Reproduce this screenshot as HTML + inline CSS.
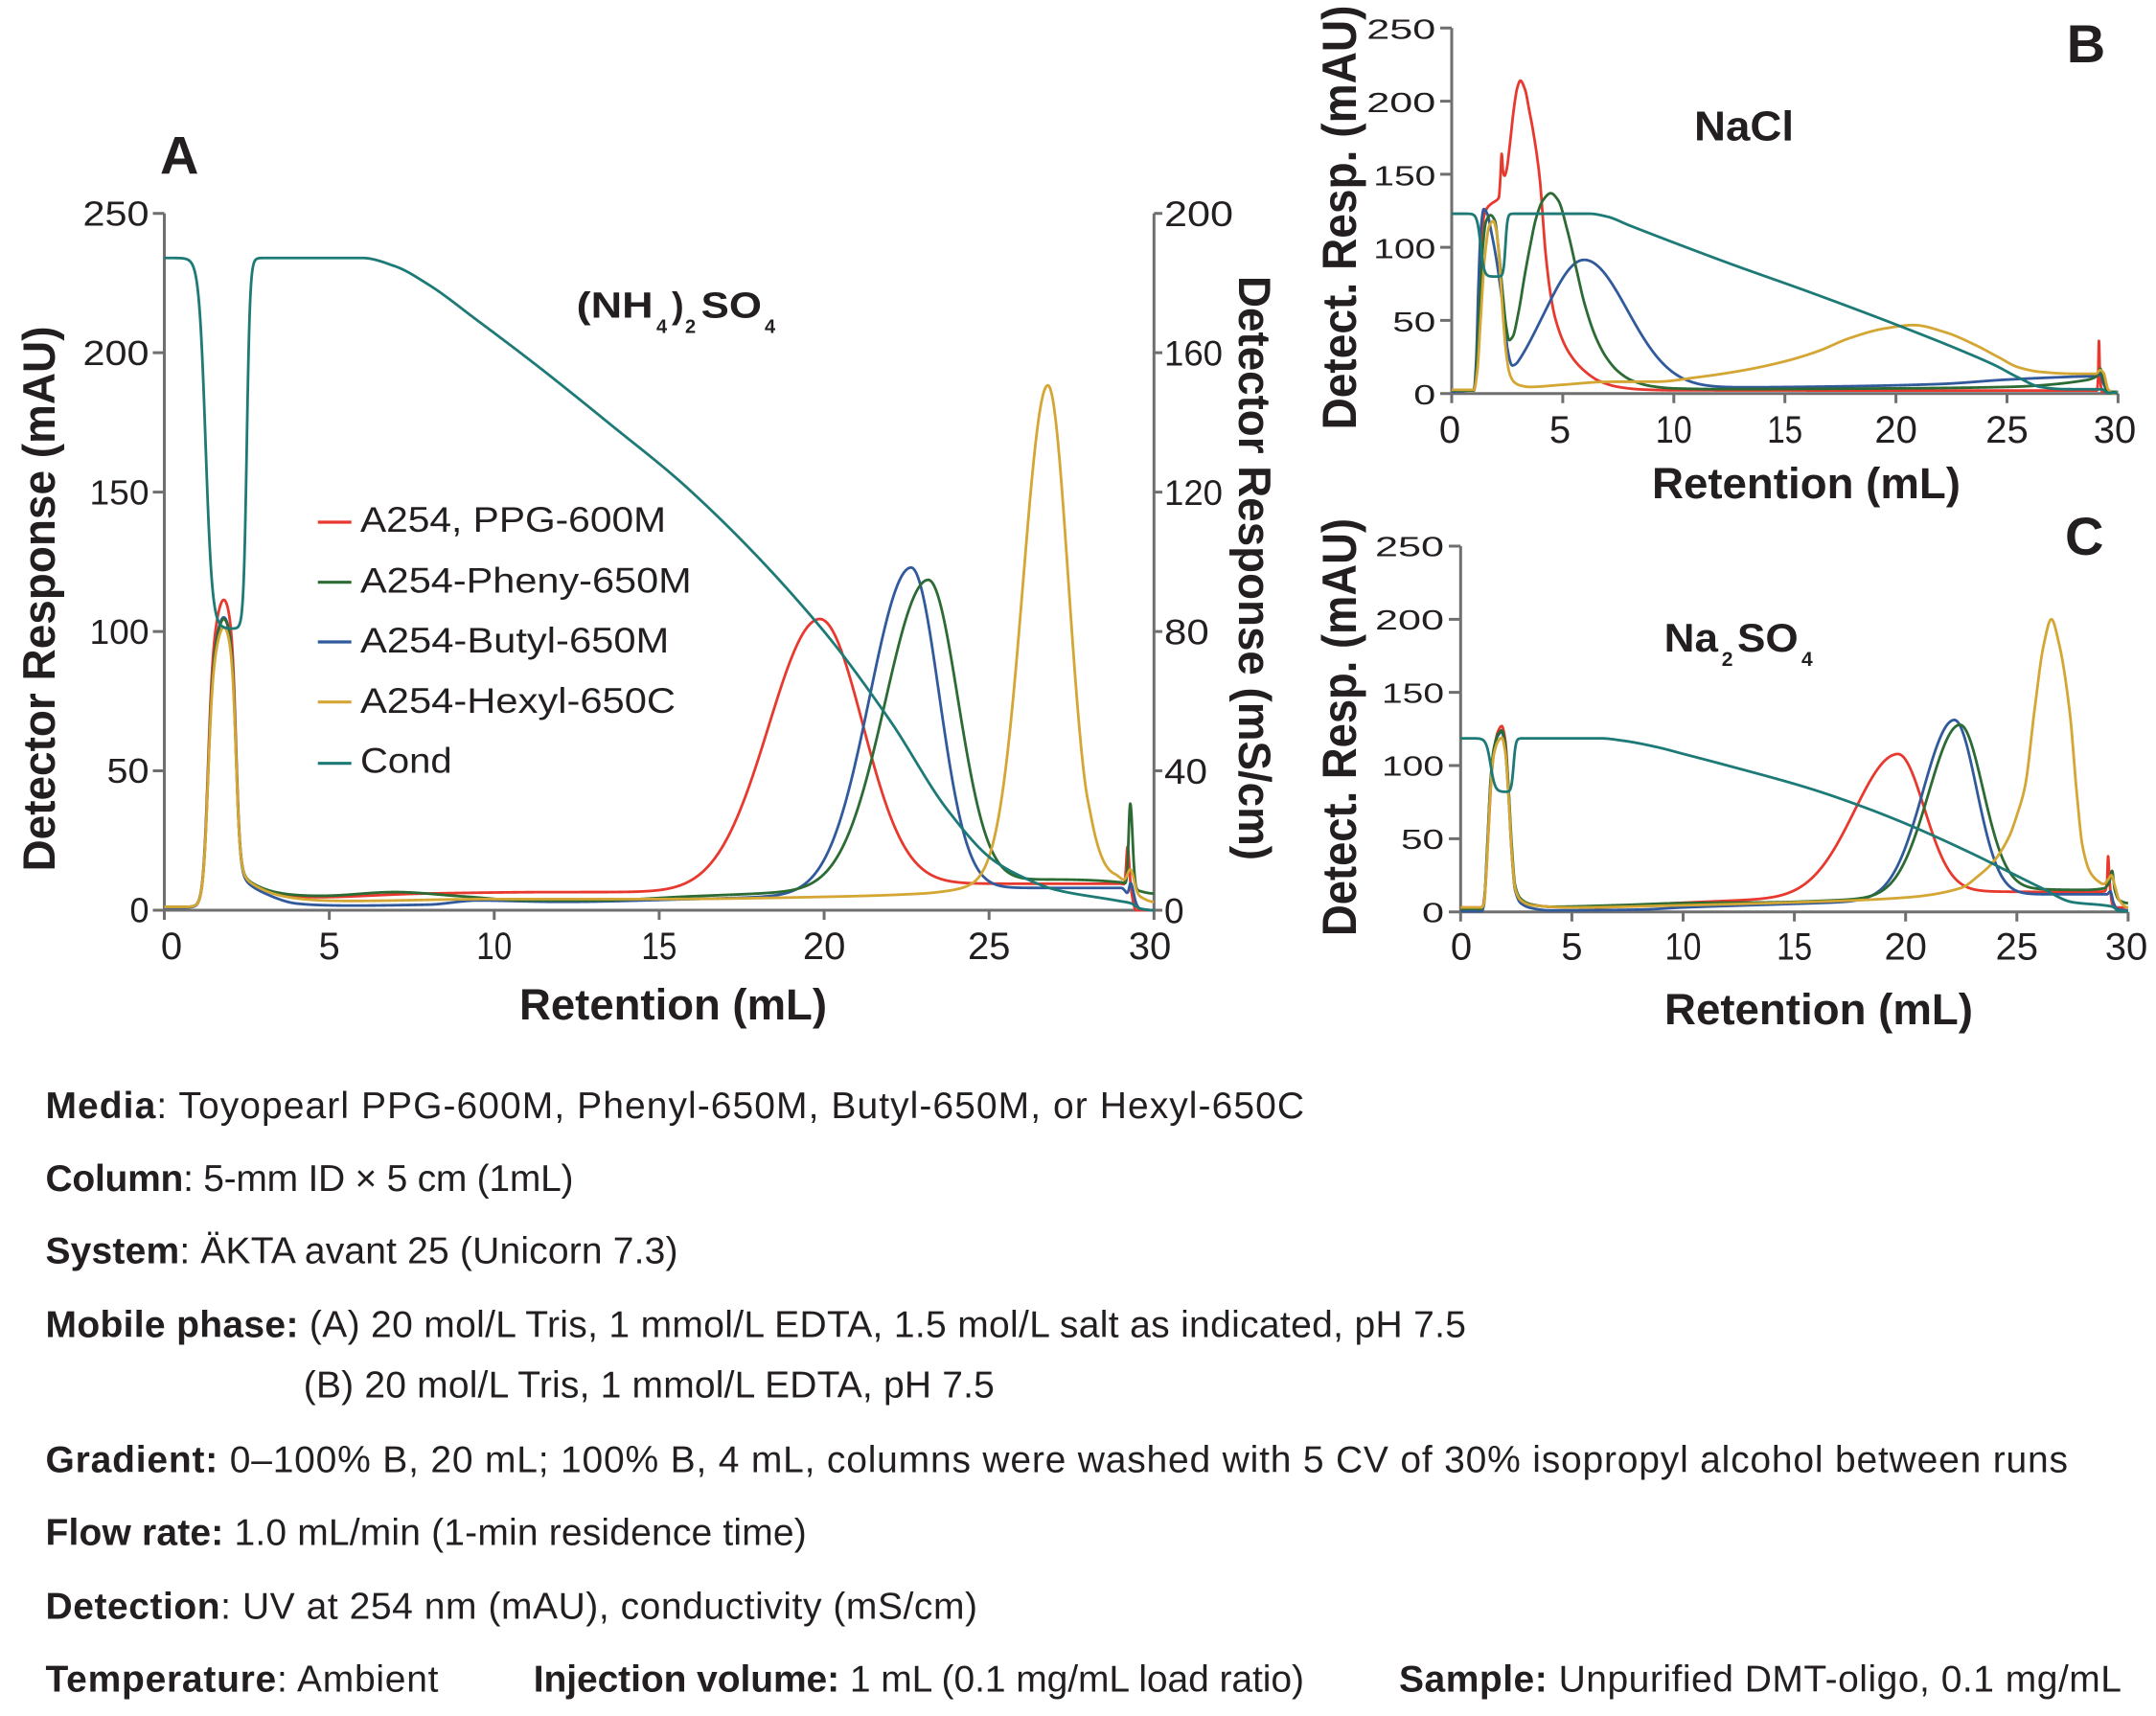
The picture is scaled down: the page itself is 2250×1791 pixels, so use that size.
<!DOCTYPE html>
<html><head><meta charset="utf-8">
<style>
html,body{margin:0;padding:0;background:#fff;}
svg{display:block;}
text{font-family:"Liberation Sans",Arial,sans-serif;fill:#231f20;}
.b{font-weight:bold;}
.yt{font-size:36px;text-anchor:end;}
.yr{font-size:37px;}
.xt{font-size:40px;text-anchor:middle;}
.yt2{font-size:29px;text-anchor:end;}
.lg{font-size:37px;}
.ft{font-size:39px;}
.ax{fill:none;stroke:#6f6f6f;stroke-width:3;}
</style></head><body>
<svg id="s" width="2250" height="1791" viewBox="0 0 2250 1791" xmlns="http://www.w3.org/2000/svg">
<rect width="2250" height="1791" fill="#fff"/>

<!-- ========== Panel A axes ========== -->
<path class="ax" d="M171.5 222.7V950 M159.5 950H1204.3 M1204.3 222.7V960
M159.5 804.54H171.5 M159.5 659.08H171.5 M159.5 513.62H171.5 M159.5 368.16H171.5 M159.5 222.7H171.5
M1204.3 950H1213 M1204.3 804.54H1213 M1204.3 659.08H1213 M1204.3 513.62H1213 M1204.3 368.16H1213 M1204.3 222.7H1213
M171.5 950V960 M343.64 950V960 M515.78 950V960 M687.92 950V960 M860.06 950V960 M1032.2 950V960"/>
<text class="yt" x="155.5" y="962.7">0</text>
<text class="yt" x="155.5" y="817.2" textLength="44" lengthAdjust="spacingAndGlyphs">50</text>
<text class="yt" x="155.5" y="671.8" textLength="62" lengthAdjust="spacingAndGlyphs">100</text>
<text class="yt" x="155.5" y="526.3" textLength="62" lengthAdjust="spacingAndGlyphs">150</text>
<text class="yt" x="155.5" y="380.9" textLength="69" lengthAdjust="spacingAndGlyphs">200</text>
<text class="yt" x="155.5" y="235.4" textLength="69" lengthAdjust="spacingAndGlyphs">250</text>

<text class="yr" x="1215" y="963.3">0</text>
<text class="yr" x="1215" y="817.8" textLength="45" lengthAdjust="spacingAndGlyphs">40</text>
<text class="yr" x="1215" y="672.4" textLength="46.7" lengthAdjust="spacingAndGlyphs">80</text>
<text class="yr" x="1215" y="526.9" textLength="61" lengthAdjust="spacingAndGlyphs">120</text>
<text class="yr" x="1215" y="381.5" textLength="61" lengthAdjust="spacingAndGlyphs">160</text>
<text class="yr" x="1215" y="236" textLength="72" lengthAdjust="spacingAndGlyphs">200</text>

<text class="xt" x="179" y="1001">0</text>
<text class="xt" x="343.6" y="1001">5</text>
<text class="xt" x="515.8" y="1001" textLength="37" lengthAdjust="spacingAndGlyphs">10</text>
<text class="xt" x="687.9" y="1001" textLength="37" lengthAdjust="spacingAndGlyphs">15</text>
<text class="xt" x="860.1" y="1001">20</text>
<text class="xt" x="1032.2" y="1001">25</text>
<text class="xt" x="1200" y="1001">30</text>

<text class="b" x="702.5" y="1064" font-size="45" text-anchor="middle" textLength="321" lengthAdjust="spacingAndGlyphs">Retention (mL)</text>
<text class="b" transform="translate(57,625) rotate(-90)" font-size="47" text-anchor="middle" textLength="569" lengthAdjust="spacingAndGlyphs">Detector Response (mAU)</text>
<text class="b" transform="translate(1293,593) rotate(90)" font-size="47" text-anchor="middle" textLength="610" lengthAdjust="spacingAndGlyphs">Detector Response (mS/cm)</text>
<text class="b" x="167" y="181.6" font-size="56">A</text>

<!-- (NH4)2SO4 -->
<text class="b" x="601.7" y="331.7" font-size="38" textLength="80" lengthAdjust="spacingAndGlyphs">(NH</text>
<text class="b" x="685" y="347.3" font-size="20">4</text>
<text class="b" x="701" y="331.7" font-size="38">)</text>
<text class="b" x="715" y="347.3" font-size="20">2</text>
<text class="b" x="731.7" y="331.7" font-size="38" textLength="63.3" lengthAdjust="spacingAndGlyphs">SO</text>
<text class="b" x="798" y="347.3" font-size="20">4</text>

<!-- legend -->
<g stroke-width="3.2">
<line x1="331.7" y1="545" x2="366.7" y2="545" stroke="#e8392f"/>
<line x1="331.7" y1="607.7" x2="366.7" y2="607.7" stroke="#2c6b33"/>
<line x1="331.7" y1="670" x2="366.7" y2="670" stroke="#315a9c"/>
<line x1="331.7" y1="732.7" x2="366.7" y2="732.7" stroke="#d4a634"/>
<line x1="331.7" y1="796.7" x2="366.7" y2="796.7" stroke="#1d7a76"/>
</g>
<text class="lg" x="376" y="555" textLength="319" lengthAdjust="spacingAndGlyphs">A254, PPG-600M</text>
<text class="lg" x="376" y="618.3" textLength="345.7" lengthAdjust="spacingAndGlyphs">A254-Pheny-650M</text>
<text class="lg" x="376" y="681" textLength="322.3" lengthAdjust="spacingAndGlyphs">A254-Butyl-650M</text>
<text class="lg" x="376" y="744" textLength="329" lengthAdjust="spacingAndGlyphs">A254-Hexyl-650C</text>
<text class="lg" x="376" y="806.7" textLength="95.7" lengthAdjust="spacingAndGlyphs">Cond</text>

<!-- ========== Panel B axes ========== -->
<path class="ax" d="M1515 29.3V410.7 M1503 410.7H2210.4
M1503 334.42H1515 M1503 258.14H1515 M1503 181.86H1515 M1503 105.58H1515 M1503 29.3H1515
M1515 410.7V420.7 M1630.9 410.7V420.7 M1746.8 410.7V420.7 M1862.7 410.7V420.7 M1978.6 410.7V420.7 M2094.5 410.7V420.7 M2210.4 410.7V420.7"/>
<text class="yt2" x="1498.3" y="422.1" textLength="23" lengthAdjust="spacingAndGlyphs">0</text>
<text class="yt2" x="1498.3" y="345.8" textLength="45" lengthAdjust="spacingAndGlyphs">50</text>
<text class="yt2" x="1498.3" y="269.5" textLength="65" lengthAdjust="spacingAndGlyphs">100</text>
<text class="yt2" x="1498.3" y="193.3" textLength="65" lengthAdjust="spacingAndGlyphs">150</text>
<text class="yt2" x="1498.3" y="117" textLength="72" lengthAdjust="spacingAndGlyphs">200</text>
<text class="yt2" x="1498.3" y="40.7" textLength="72" lengthAdjust="spacingAndGlyphs">250</text>
<text class="xt" x="1513" y="462">0</text>
<text class="xt" x="1628" y="462">5</text>
<text class="xt" x="1746.8" y="462" textLength="38" lengthAdjust="spacingAndGlyphs">10</text>
<text class="xt" x="1862.7" y="462" textLength="37" lengthAdjust="spacingAndGlyphs">15</text>
<text class="xt" x="1978.6" y="462">20</text>
<text class="xt" x="2094.5" y="462">25</text>
<text class="xt" x="2207" y="462">30</text>
<text class="b" x="1885" y="520" font-size="45" text-anchor="middle" textLength="322" lengthAdjust="spacingAndGlyphs">Retention (mL)</text>
<text class="b" transform="translate(1415,227) rotate(-90)" font-size="50" text-anchor="middle" textLength="443" lengthAdjust="spacingAndGlyphs">Detect. Resp. (mAU)</text>
<text class="b" x="2156.7" y="65" font-size="56">B</text>
<text class="b" x="1768" y="146.7" font-size="44" textLength="104" lengthAdjust="spacingAndGlyphs">NaCl</text>

<!-- ========== Panel C axes ========== -->
<path class="ax" d="M1524.3 570V951.7 M1512 951.7H2220.9
M1512 875.36H1524.3 M1512 799.02H1524.3 M1512 722.68H1524.3 M1512 646.34H1524.3 M1512 570H1524.3
M1524.3 951.7V961.7 M1640.4 951.7V961.7 M1756.5 951.7V961.7 M1872.6 951.7V961.7 M1988.7 951.7V961.7 M2104.8 951.7V961.7 M2220.9 951.7V961.7"/>
<text class="yt2" x="1507" y="962.4" textLength="23" lengthAdjust="spacingAndGlyphs">0</text>
<text class="yt2" x="1507" y="886.1" textLength="45" lengthAdjust="spacingAndGlyphs">50</text>
<text class="yt2" x="1507" y="809.7" textLength="65" lengthAdjust="spacingAndGlyphs">100</text>
<text class="yt2" x="1507" y="733.4" textLength="65" lengthAdjust="spacingAndGlyphs">150</text>
<text class="yt2" x="1507" y="657" textLength="72" lengthAdjust="spacingAndGlyphs">200</text>
<text class="yt2" x="1507" y="580.7" textLength="72" lengthAdjust="spacingAndGlyphs">250</text>
<text class="xt" x="1525" y="1001.7">0</text>
<text class="xt" x="1640.4" y="1001.7">5</text>
<text class="xt" x="1756.5" y="1001.7" textLength="38" lengthAdjust="spacingAndGlyphs">10</text>
<text class="xt" x="1872.6" y="1001.7" textLength="37" lengthAdjust="spacingAndGlyphs">15</text>
<text class="xt" x="1988.7" y="1001.7">20</text>
<text class="xt" x="2104.8" y="1001.7">25</text>
<text class="xt" x="2219" y="1001.7">30</text>
<text class="b" x="1898" y="1069" font-size="45" text-anchor="middle" textLength="322" lengthAdjust="spacingAndGlyphs">Retention (mL)</text>
<text class="b" transform="translate(1415,759) rotate(-90)" font-size="50" text-anchor="middle" textLength="436" lengthAdjust="spacingAndGlyphs">Detect. Resp. (mAU)</text>
<text class="b" x="2155" y="579" font-size="56">C</text>
<text class="b" x="1736.7" y="680" font-size="42" textLength="56.3" lengthAdjust="spacingAndGlyphs">Na</text>
<text class="b" x="1796.7" y="695" font-size="21">2</text>
<text class="b" x="1813" y="680" font-size="42" textLength="63.7" lengthAdjust="spacingAndGlyphs">SO</text>
<text class="b" x="1880" y="695" font-size="21">4</text>

<g id="curves"></g>

<!-- ========== Footer text ========== -->
<text class="ft" x="47.5" y="1167" textLength="1313.5"><tspan class="b">Media</tspan>: Toyopearl PPG-600M, Phenyl-650M, Butyl-650M, or Hexyl-650C</text>
<text class="ft" x="47.5" y="1243" textLength="551"><tspan class="b">Column</tspan>: 5-mm ID × 5 cm (1mL)</text>
<text class="ft" x="47.5" y="1318.7" textLength="660"><tspan class="b">System</tspan>: ÄKTA avant 25 (Unicorn 7.3)</text>
<text class="ft" x="47.5" y="1395.7" textLength="1482.5"><tspan class="b">Mobile phase:</tspan> (A) 20 mol/L Tris, 1 mmol/L EDTA, 1.5 mol/L salt as indicated, pH 7.5</text>
<text class="ft" x="316.8" y="1458.6" textLength="721">(B) 20 mol/L Tris, 1 mmol/L EDTA, pH 7.5</text>
<text class="ft" x="47.5" y="1536.5" textLength="2110.5"><tspan class="b">Gradient:</tspan> 0–100% B, 20 mL; 100% B, 4 mL, columns were washed with 5 CV of 30% isopropyl alcohol between runs</text>
<text class="ft" x="47.5" y="1612.6" textLength="794.3"><tspan class="b">Flow rate:</tspan> 1.0 mL/min (1-min residence time)</text>
<text class="ft" x="47.5" y="1689.7" textLength="972.5"><tspan class="b">Detection</tspan>: UV at 254 nm (mAU), conductivity (mS/cm)</text>
<text class="ft" x="47.5" y="1765.3" textLength="410"><tspan class="b">Temperature</tspan>: Ambient</text>
<text class="ft" x="556.7" y="1765.3" textLength="804.3"><tspan class="b">Injection volume:</tspan> 1 mL (0.1 mg/mL load ratio)</text>
<text class="ft" x="1460" y="1765.3" textLength="754"><tspan class="b">Sample:</tspan> Unpurified DMT-oligo, 0.1 mg/mL</text>
</svg>

<script>
(function(){
var NS="http://www.w3.org/2000/svg";
function pchip(pts){
  var n=pts.length,xs=[],ys=[],h=[],d=[],m=[],i;
  for(i=0;i<n;i++){xs.push(pts[i][0]);ys.push(pts[i][1]);}
  for(i=0;i<n-1;i++){h[i]=xs[i+1]-xs[i];d[i]=(ys[i+1]-ys[i])/h[i];}
  m[0]=0;m[n-1]=0;
  for(i=1;i<n-1;i++){
    if(d[i-1]*d[i]<=0)m[i]=0;
    else{var w1=2*h[i]+h[i-1],w2=h[i]+2*h[i-1];m[i]=(w1+w2)/(w1/d[i-1]+w2/d[i]);}
  }
  return function(x){
    if(x<=xs[0])return ys[0];
    if(x>=xs[n-1])return ys[n-1];
    var k=0;while(x>xs[k+1])k++;
    var t=(x-xs[k])/h[k],t2=t*t,t3=t2*t;
    return (2*t3-3*t2+1)*ys[k]+(t3-2*t2+t)*h[k]*m[k]+(-2*t3+3*t2)*ys[k+1]+(t3-t2)*h[k]*m[k+1];
  };
}
function G(x,mu,hh,sl,sr){var s=x<mu?sl:sr;var q=(x-mu)/s;return hh*Math.exp(-0.5*q*q);}
function S(x,c,w){return 1/(1+Math.exp(-(x-c)/w));}
function injA(x,hh){
  return hh*S(x,1.32,0.075)*(1-S(x,2.18,0.06))*(0.88+0.12*Math.exp(-Math.pow((x-1.8)/0.3,2)))
    +12*S(x,2.2,0.06)*Math.exp(-Math.max(0,x-2.2)/0.7);
}
var C={red:'#e8392f',green:'#2c6b33',blue:'#315a9c',yellow:'#d4a634',teal:'#1d7a76'};
var g=document.getElementById('curves');
function draw(P,f,color){
  var d='';
  for(var i=0;i<=3000;i++){
    var x=i/100,X=P.x0+x*P.sx,Y=P.y0-f(x)*P.sy;
    d+=(i?'L':'M')+X.toFixed(2)+' '+Y.toFixed(2);
  }
  var p=document.createElementNS(NS,'path');
  p.setAttribute('d',d);p.setAttribute('fill','none');p.setAttribute('stroke',color);
  p.setAttribute('stroke-width','2.8');p.setAttribute('stroke-linejoin','round');
  g.appendChild(p);
}
var PA={x0:171.5,sx:34.428,y0:950,sy:2.9092};
var PB={x0:1515,sx:23.18,y0:410.7,sy:1.5256};
var PC={x0:1524.3,sx:23.22,y0:951.7,sy:1.5268};

/* ---------- Panel A ---------- */
var rA=pchip([[0,1.2],[1.2,1.2],[3,3.5],[5,4.5],[8,6],[12,6.5],[15,6.5],[18,7],[21.5,9.5],[24,9.5],[29,9.5],[29.3,6],[29.45,0],[30,0]]);
var gA=pchip([[0,1.2],[1.2,1.2],[3,4],[5,5],[7,6.5],[9,5],[11,3.5],[13,3.5],[16,5],[19,6.5],[21,8],[25,10.5],[27,11],[29,10],[29.4,7.5],[30,6]]);
var bA=pchip([[0,1],[1.2,1],[3,2.5],[4,1.5],[8,2],[9.5,3.5],[12,3],[16,4],[19,5],[22,6.5],[24.5,8],[29,8],[29.35,3],[29.6,0.5],[30,0]]);
var yA=pchip([[0,1.2],[1.2,1.2],[3,3.5],[5,3.2],[10,4],[15,4],[20,4.8],[23,6],[24.5,8],[27,10.5],[28.8,12],[29.55,5],[30,3]]);
var tA=pchip([[0,234],[6.0,234],[7,231],[8,224.5],[9.5,211.5],[11.23,196],[13.5,174.5],[15.9,151],[19.9,101.4],[22,68],[23.74,36],[25.1,18.2],[26,12],[26.97,7.5],[28.9,3.4],[29.3,2.5],[29.6,0.5],[30,0]]);
draw(PA,function(x){return rA(x)+injA(x,110)+G(x,19.85,96,1.55,1.3)+G(x,29.2,15,0.04,0.05);},C.red);
draw(PA,function(x){return bA(x)+injA(x,104)+G(x,22.63,116,1.25,0.85)+G(x,29.3,6,0.05,0.08);},C.blue);
draw(PA,function(x){return gA(x)+injA(x,103)+G(x,23.15,109,1.3,0.9)+G(x,29.28,30,0.05,0.07);},C.green);
draw(PA,function(x){return yA(x)+injA(x,100)+G(x,26.78,178,0.75,0.62)+G(x,28.1,3,0.1,0.3)+G(x,29.3,7,0.1,0.1);},C.yellow);
draw(PA,function(x){return tA(x)-133*S(x,1.25,0.1)*(1-S(x,2.5,0.05));},C.teal);

/* ---------- Panel B ---------- */
var rB=pchip([[0,2],[0.95,2],[1.05,6],[1.15,35],[1.25,80],[1.35,108],[1.45,121],[1.6,127],[1.8,130],[2.0,132],[2.12,134],[2.2,150],[2.25,164],[2.31,152],[2.38,149],[2.47,153],[2.6,168],[2.8,195],[2.95,209],[3.09,214],[3.3,208],[3.5,193],[3.66,180],[3.95,149],[4.24,94],[4.45,68],[4.67,51],[5.24,29],[5.96,15.7],[6.68,8.3],[7.5,4.5],[8.5,2.8],[10,2.2],[29.05,2],[29.1,10],[29.14,36],[29.19,10],[29.3,1],[30,1]]);
var bBi=pchip([[0,1],[1.0,1],[1.1,20],[1.2,70],[1.3,107],[1.44,123],[1.6,119],[1.8,104],[2.0,86],[2.2,63],[2.37,41],[2.51,18],[2.73,3],[3.0,0.5],[30,0.5]]);
var bBb=pchip([[0,0],[2.5,0],[4,2.5],[12,3.5],[18,4.5],[22,6],[25,9],[28,11],[29.05,11.5],[29.2,13],[29.35,6],[29.55,1],[30,0.5]]);
var gB=pchip([[0,2],[1.0,2],[1.1,15],[1.25,60],[1.4,100],[1.55,118],[1.75,122],[1.95,118],[2.1,100],[2.3,68],[2.45,46],[2.59,36.5],[2.75,39],[3.0,55],[3.3,82],[3.52,100],[3.8,120],[4.1,132],[4.46,137],[4.8,132],[5.2,112],[5.6,86],[5.97,62],[6.5,38],[6.97,24.5],[7.5,15],[8.1,9],[9,5],[10,3.5],[12,3],[20,3.5],[25,4.5],[28.5,9],[29.05,12],[29.2,17],[29.35,9],[29.55,1.5],[30,1]]);
var yB=pchip([[0,2.5],[1.0,2.5],[1.15,15],[1.3,50],[1.5,95],[1.7,115],[1.87,118],[2.0,112],[2.15,90],[2.3,55],[2.45,28],[2.6,14],[2.8,8],[3.09,5.5],[3.5,4.5],[5,6],[7,8],[9.27,8.1],[11,11],[13,15.5],[15,22],[16.5,29],[17.9,37.8],[19.5,44.5],[20.8,46.8],[22.2,42],[23.6,33],[24.6,25],[25.5,18],[26.5,14.8],[28,13.5],[29,13.5],[29.2,16],[29.35,14],[29.55,3],[29.8,0],[30,1]]);
var tB=pchip([[0,123],[6.2,123],[7,121],[8,115],[9.27,107.5],[12.5,89],[16.18,69],[20.2,46],[23,29],[24.5,19],[25.5,11],[26.5,4.5],[27.5,3],[29.3,2.8],[29.5,0.5],[30,0.5]]);
draw(PB,rB,C.red);
draw(PB,function(x){return bBi(x)+bBb(x)+G(x,5.96,88,1.75,1.95);},C.blue);
draw(PB,gB,C.green);
draw(PB,yB,C.yellow);
draw(PB,function(x){return tB(x)-43*S(x,1.3,0.08)*(1-S(x,2.42,0.045));},C.teal);

/* ---------- Panel C ---------- */
var rC=pchip([[0,3],[0.9,3],[1.0,4],[1.1,15],[1.25,55],[1.4,95],[1.55,115],[1.7,124],[1.85,127],[2.0,118],[2.15,85],[2.3,40],[2.45,15],[2.7,8],[3.2,5],[4,3.5],[6,3],[9,5.5],[12,7.5],[15,9],[18,10.5],[21,12.5],[23.5,13.8],[28,13.5],[28.95,14],[29.05,20],[29.1,38],[29.17,20],[29.3,5],[29.5,3],[30,3]]);
var bC=pchip([[0,0.5],[0.95,0.5],[1.05,5],[1.2,45],[1.35,90],[1.5,112],[1.7,121],[1.85,123],[2.0,112],[2.15,80],[2.3,40],[2.45,15],[2.7,6],[3.2,2.5],[4,1],[8,1.5],[10,3],[14,5],[17,6.5],[20,8.5],[22,10],[24,12],[28.5,12],[29.05,12],[29.2,14],[29.35,6],[29.5,2],[30,1]]);
var gC=pchip([[0,2],[0.95,2],[1.05,6],[1.2,45],[1.35,90],[1.5,112],[1.7,122],[1.85,124],[2.0,115],[2.15,85],[2.3,45],[2.45,18],[2.7,9],[3.2,5],[4,3.5],[7,4.5],[10,6],[14,6.5],[17,8],[20,10],[23,13],[25,15.5],[28,15],[28.9,16],[29.15,20],[29.28,28],[29.4,15],[29.6,8],[30,6]]);
var yC=pchip([[0,3],[0.95,3],[1.05,6],[1.2,40],[1.35,85],[1.5,108],[1.7,117],[1.85,119],[2.0,110],[2.15,80],[2.3,40],[2.45,16],[2.7,8],[3.2,4.5],[5,3],[10,4.5],[15,6.5],[20,9.8],[22.5,16.4],[23.3,25],[23.93,34],[24.65,51.4],[25.0,66],[25.37,86],[25.8,138.7],[26.2,182],[26.55,200],[26.9,183],[27.38,136],[27.7,80],[27.95,45],[28.3,27],[28.67,20.8],[28.9,19],[29.1,22],[29.25,25],[29.4,18],[29.6,8],[30,3]]);
var tC=pchip([[0,118.6],[6.3,118.6],[7.3,117],[8.86,112.5],[10,108],[12,100],[15.76,84],[18.05,72],[20.05,60],[23.2,38.3],[24.65,27.3],[26.1,16.4],[27.5,6.6],[28.96,4.4],[29.3,3.5],[29.6,0.5],[30,0.5]]);
draw(PC,function(x){return rC(x)+G(x,19.64,96.3,1.95,1.2);},C.red);
draw(PC,function(x){return bC(x)+G(x,22.18,121,1.4,1.0);},C.blue);
draw(PC,function(x){return gC(x)+G(x,22.43,115.5,1.4,1.05);},C.green);
draw(PC,yC,C.yellow);
draw(PC,function(x){return tC(x)-36.6*S(x,1.35,0.1)*(1-S(x,2.38,0.05));},C.teal);
})();
</script>
</body></html>
